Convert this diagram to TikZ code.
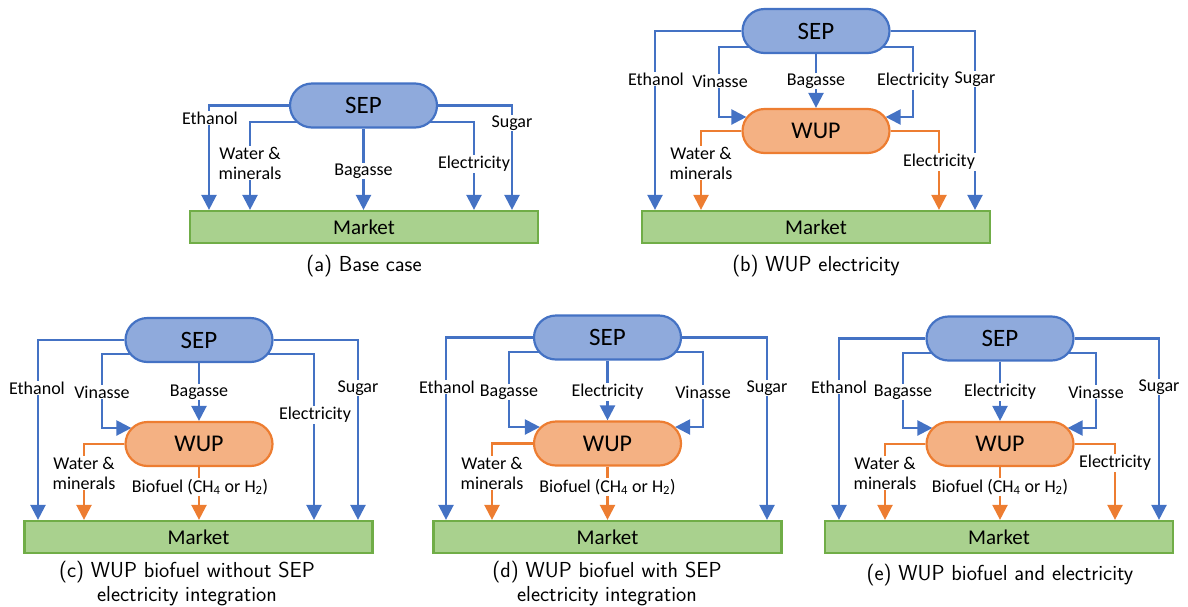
\documentclass[tikz,border=0pt]{standalone}
\usepackage{fontspec}
\newfontfamily\carl{Carlito}
\usetikzlibrary{arrows.meta,backgrounds}
\definecolor{bline}{HTML}{4472C4}
\definecolor{bfill}{HTML}{8FAADC}
\definecolor{oline}{HTML}{ED7D31}
\definecolor{ofill}{HTML}{F4B183}
\definecolor{gline}{HTML}{70AD47}
\definecolor{gfill}{HTML}{A9D18E}
\begin{document}
\begin{tikzpicture}[x=1pt,y=-1pt,
 sepbox/.style={draw=bline,fill=bfill,line width=2.2pt,rounded corners=22pt,minimum width=147pt,minimum height=44pt,inner sep=0pt,font=\carl\fontsize{25}{30}\selectfont},
 wupbox/.style={draw=oline,fill=ofill,line width=2.2pt,rounded corners=22pt,minimum width=147pt,minimum height=44pt,inner sep=0pt,font=\carl\fontsize{24}{30}\selectfont},
 mktbox/.style={draw=gline,fill=gfill,line width=2.2pt,minimum width=348pt,minimum height=32pt,inner sep=0pt,font=\carl\fontsize{21}{24}\selectfont},
 bflow/.style={draw=bline,line width=2.3pt,-{Triangle[width=15pt,length=15pt]}},
 oflow/.style={draw=oline,line width=2.3pt,-{Triangle[width=15pt,length=15pt]}},
 lab/.style={fill=white,inner sep=1pt,align=center,font=\carl\fontsize{18}{20}\selectfont},
 captxt/.style={align=center,font=\sffamily\fontsize{21.7}{24}\selectfont}]
\useasboundingbox (0,0) rectangle (1188,606);
% ---------- (a)
\node[sepbox] (sepa) at (363.5,105.5) {SEP};
\node[mktbox] (mkta) at (364,227) {Market};
\node[captxt] (capa) at (364,266) {(a) Base case};
% ---------- (b)
\node[sepbox] (sepb) at (816,31) {SEP};
\node[wupbox] (wupb) at (816,131) {WUP};
\node[mktbox] (mktb) at (816,227) {Market};
\node[captxt] (capb) at (816,266) {(b) WUP electricity};
% ---------- (c)
\node[sepbox] (sepc) at (199,340) {SEP};
\node[wupbox] (wupc) at (199,444) {WUP};
\node[mktbox] (mktc) at (198.5,537) {Market};
\node[captxt] (capc) at (187,584) {(c) WUP biofuel without SEP\\electricity integration};
% ---------- (d)
\node[sepbox] (sepd) at (607.5,337.5) {SEP};
\node[wupbox] (wupd) at (607.5,443.5) {WUP};
\node[mktbox] (mktd) at (607.5,537) {Market};
\node[captxt] (capd) at (607,584) {(d) WUP biofuel with SEP\\electricity integration};
% ---------- (e)
\node[sepbox] (sepe) at (1000,338.5) {SEP};
\node[wupbox] (wupe) at (1000,444) {WUP};
\node[mktbox] (mkte) at (999,537) {Market};
\node[captxt] (cape) at (1000,575) {(e) WUP biofuel and electricity};

\begin{pgfonlayer}{background}
% (a)
\draw[bflow] (sepa.west) -| (209,0 |- mkta.north);
\draw[bflow] ([xshift=-45pt,yshift=-16.5pt]sepa.center) -| (250,0 |- mkta.north);
\draw[bflow] (sepa.south) -- (sepa.south |- mkta.north);
\draw[bflow] ([xshift=45pt,yshift=-16.5pt]sepa.center) -| (474,0 |- mkta.north);
\draw[bflow] (sepa.east) -| (512,0 |- mkta.north);
\node[lab] (la1) at (210,118) {Ethanol};
\node[lab] (la2) at (250,163) {Water \&\\minerals};
\node[lab] (la3) at (363.5,171) {Bagasse};
\node[lab] (la4) at (474,164) {Electricity};
\node[lab] (la5) at (512,123) {Sugar};
% (b)
\draw[bflow] (sepb.west) -| (655,0 |- mktb.north);
\draw[bflow] ([xshift=-45pt,yshift=-16pt]sepb.center) -| (719,117) -- ([xshift=5pt,yshift=14pt]wupb.west);
\draw[bflow] (sepb.south) -- (wupb.north);
\draw[bflow] ([xshift=45pt,yshift=-16pt]sepb.center) -| (913,117) -- ([xshift=-5pt,yshift=14pt]wupb.east);
\draw[bflow] (sepb.east) -| (975,0 |- mktb.north);
\draw[oflow] (wupb.west) -| (701,0 |- mktb.north);
\draw[oflow] (wupb.east) -| (939,0 |- mktb.north);
\node[lab] (lb1) at (656,79) {Ethanol};
\node[lab] (lb2) at (720,81) {Vinasse};
\node[lab] (lb3) at (816,81) {Bagasse};
\node[lab] (lb4) at (913,81) {Electricity};
\node[lab] (lb5) at (975,79) {Sugar};
\node[lab] (lb6) at (701,163) {Water \&\\minerals};
\node[lab] (lb7) at (939,162) {Electricity};
% (c)
\draw[bflow] (sepc.west) -| (38,0 |- mktc.north);
\draw[bflow] ([xshift=-45pt,yshift=-14pt]sepc.center) -| (102,428) -- ([xshift=7pt,yshift=16pt]wupc.west);
\draw[bflow] (sepc.south) -- (wupc.north);
\draw[bflow] ([xshift=45pt,yshift=-14pt]sepc.center) -| (314,0 |- mktc.north);
\draw[bflow] (sepc.east) -| (358,0 |- mktc.north);
\draw[oflow] (wupc.west) -| (84,0 |- mktc.north);
\draw[oflow] (wupc.south) -- (wupc.south |- mktc.north);
\node[lab] (lc1) at (37,388) {Ethanol};
\node[lab] (lc2) at (102,392) {Vinasse};
\node[lab] (lc3) at (199,392) {Bagasse};
\node[lab] (lc4) at (315,415) {Electricity};
\node[lab] (lc5) at (358,388) {Sugar};
\node[lab] (lc6) at (84,473) {Water \&\\minerals};
\node[lab] (lc7) at (200,487) {Biofuel (CH\textsubscript{4} or H\textsubscript{2})};
% (d)
\draw[bflow] (sepd.west) -| (446,0 |- mktd.north);
\draw[bflow] ([xshift=-45pt,yshift=-14.5pt]sepd.center) -| (509,427) -- ([xshift=7pt,yshift=16.5pt]wupd.west);
\draw[bflow] (sepd.south) -- (wupd.north);
\draw[bflow] ([xshift=45pt,yshift=-14.5pt]sepd.center) -| (703,427) -- ([xshift=-7pt,yshift=16.5pt]wupd.east);
\draw[bflow] (sepd.east) -| (767,0 |- mktd.north);
\draw[oflow] (wupd.west) -| (492,0 |- mktd.north);
\draw[oflow] (wupd.south) -- (wupd.south |- mktd.north);
\node[lab] (ld1) at (447,387) {Ethanol};
\node[lab] (ld2) at (509,392) {Bagasse};
\node[lab] (ld3) at (607.5,392) {Electricity};
\node[lab] (ld4) at (703,392) {Vinasse};
\node[lab] (ld5) at (767,388) {Sugar};
\node[lab] (ld6) at (492,473) {Water \&\\minerals};
\node[lab] (ld7) at (607.5,487) {Biofuel (CH\textsubscript{4} or H\textsubscript{2})};
% (e)
\draw[bflow] (sepe.west) -| (839,0 |- mkte.north);
\draw[bflow] ([xshift=-45pt,yshift=-14.5pt]sepe.center) -| (903,428) -- ([xshift=7pt,yshift=16pt]wupe.west);
\draw[bflow] (sepe.south) -- (wupe.north);
\draw[bflow] ([xshift=45pt,yshift=-14.5pt]sepe.center) -| (1096,428) -- ([xshift=-7pt,yshift=16pt]wupe.east);
\draw[bflow] (sepe.east) -| (1159,0 |- mkte.north);
\draw[oflow] (wupe.west) -| (885,0 |- mkte.north);
\draw[oflow] (wupe.south) -- (wupe.south |- mkte.north);
\draw[oflow] (wupe.east) -| (1115,0 |- mkte.north);
\node[lab] (le1) at (839,387) {Ethanol};
\node[lab] (le2) at (903,392) {Bagasse};
\node[lab] (le3) at (1000,392) {Electricity};
\node[lab] (le4) at (1096,392) {Vinasse};
\node[lab] (le5) at (1159,387) {Sugar};
\node[lab] (le6) at (885,473) {Water \&\\minerals};
\node[lab] (le7) at (1000,487) {Biofuel (CH\textsubscript{4} or H\textsubscript{2})};
\node[lab] (le8) at (1115,463) {Electricity};
\end{pgfonlayer}
\end{tikzpicture}
\end{document}
